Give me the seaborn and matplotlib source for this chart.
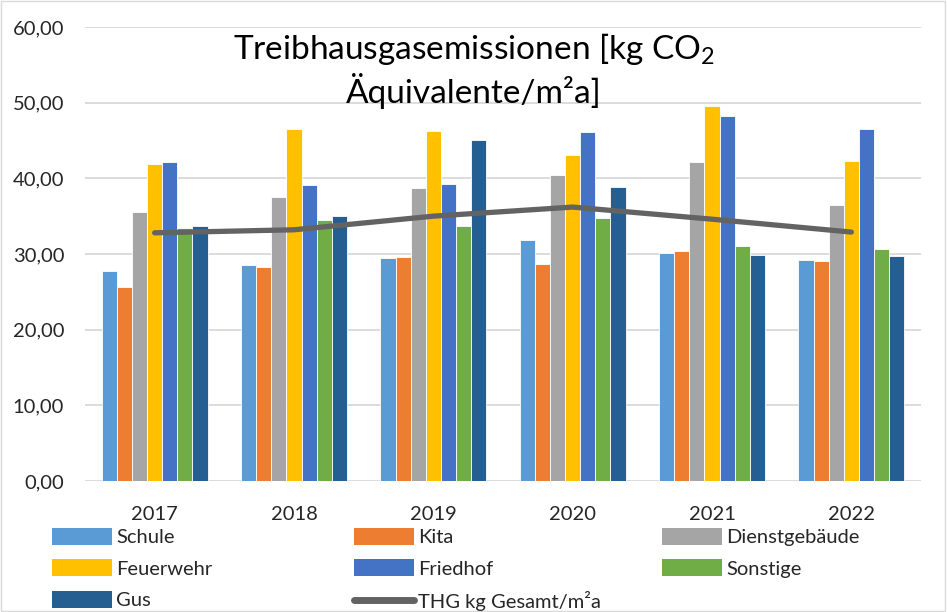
import pandas as pd
import matplotlib
matplotlib.use("Agg")
import matplotlib.pyplot as plt
from matplotlib.patches import Patch, Rectangle
from matplotlib.lines import Line2D
from matplotlib.ticker import FuncFormatter
import seaborn as sns

# Data
years = ['2017', '2018', '2019', '2020', '2021', '2022']
categories = ['Schule', 'Kita', 'Dienstgebäude', 'Feuerwehr', 'Friedhof', 'Sonstige', 'Gus']
schule = [27.8, 28.6, 29.5, 31.8, 30.1, 29.2]
kita = [25.7, 28.3, 29.6, 28.7, 30.4, 29.1]
dienstgebaeude = [35.6, 37.5, 38.7, 40.4, 42.2, 36.5]
feuerwehr = [41.9, 46.5, 46.2, 43.1, 49.5, 42.3]
friedhof = [42.2, 39.1, 39.2, 46.1, 48.2, 46.5]
sonstige = [33.4, 34.5, 33.7, 34.8, 31.1, 30.7]
gus = [33.7, 35.0, 45.1, 38.8, 29.9, 29.7]
thg_gesamt = [32.8, 33.2, 35.0, 36.2, 34.6, 32.9]
line_label = 'THG kg Gesamt/m²a'

colors = ['#5B9BD5', '#ED7D31', '#A5A5A5', '#FFC000', '#4472C4', '#70AD47', '#255E91']
line_color = '#636363'

series = [schule, kita, dienstgebaeude, feuerwehr, friedhof, sonstige, gus]
df = pd.DataFrame({
    'Jahr': [y for _ in categories for y in years],
    'Kategorie': [c for c in categories for _ in years],
    'Wert': [v for s in series for v in s],
})

sns.set_theme(style="white")
plt.rcParams['font.family'] = ['Lato', 'DejaVu Sans']
plt.rcParams['mathtext.fontset'] = 'custom'
plt.rcParams['mathtext.rm'] = 'Lato'

fig = plt.figure(figsize=(9.47, 6.12), dpi=100)
ax = fig.add_axes([85 / 947, 1 - 481 / 612, 836 / 947, 454 / 612])

sns.barplot(data=df, x='Jahr', y='Wert', hue='Kategorie', order=years,
            hue_order=categories, palette=colors, width=0.76, gap=0,
            edgecolor='white', linewidth=0.6, saturation=1, legend=False, ax=ax)
sns.pointplot(x=years, y=thg_gesamt, order=years, color=line_color, markers='',
              linewidth=3.8, errorbar=None, ax=ax)
for ln in ax.lines:
    ln.set_solid_capstyle('round')
    ln.set_zorder(5)

ax.set_ylim(0, 60)
ax.set_yticks(range(0, 61, 10))
ax.yaxis.set_major_formatter(FuncFormatter(lambda v, p: f'{v:.2f}'.replace('.', ',')))
ax.set_xlim(-0.5, len(years) - 0.5)
ax.grid(axis='y', color='#d9d9d9', linewidth=1.3)
ax.set_axisbelow(True)
for s in ax.spines.values():
    s.set_visible(False)
ax.set_xlabel('')
ax.set_ylabel('')
ax.tick_params(axis='y', length=0, pad=15, labelsize=14.5, labelcolor='#262626')
ax.tick_params(axis='x', length=0, pad=18, labelsize=14.5, labelcolor='#262626')

fig.text(0.5, 1 - 31 / 612,
         'Treibhausgasemissionen [kg CO$_{\\mathregular{2}}$\nÄquivalente/m²a]',
         ha='center', va='top', fontsize=24, color='black', linespacing=1.2)

# Legend in three columns, laid out like the reference
handles = [Patch(facecolor=c, edgecolor='none') for c in colors]
handles.append(Line2D([0], [0], color=line_color, linewidth=5, solid_capstyle='round'))
labels = categories + [line_label]
columns = [[0, 3, 6], [1, 4, 7], [2, 5]]
col_x = [52, 354, 662]
for xs, idx in zip(col_x, columns):
    fig.legend([handles[i] for i in idx], [labels[i] for i in idx],
               loc='upper left', bbox_to_anchor=(xs / 947, 1 - 528 / 612),
               frameon=False, fontsize=14.5, handlelength=3.0, handleheight=0.9,
               handletextpad=0.2, labelspacing=0.65, borderpad=0,
               borderaxespad=0, labelcolor='#262626')

fig.patches.append(Rectangle((0.001, 0.001), 0.997, 0.997, transform=fig.transFigure,
                             fill=False, edgecolor='#d9d9d9', linewidth=1))

fig.savefig('out.png', dpi=100)
